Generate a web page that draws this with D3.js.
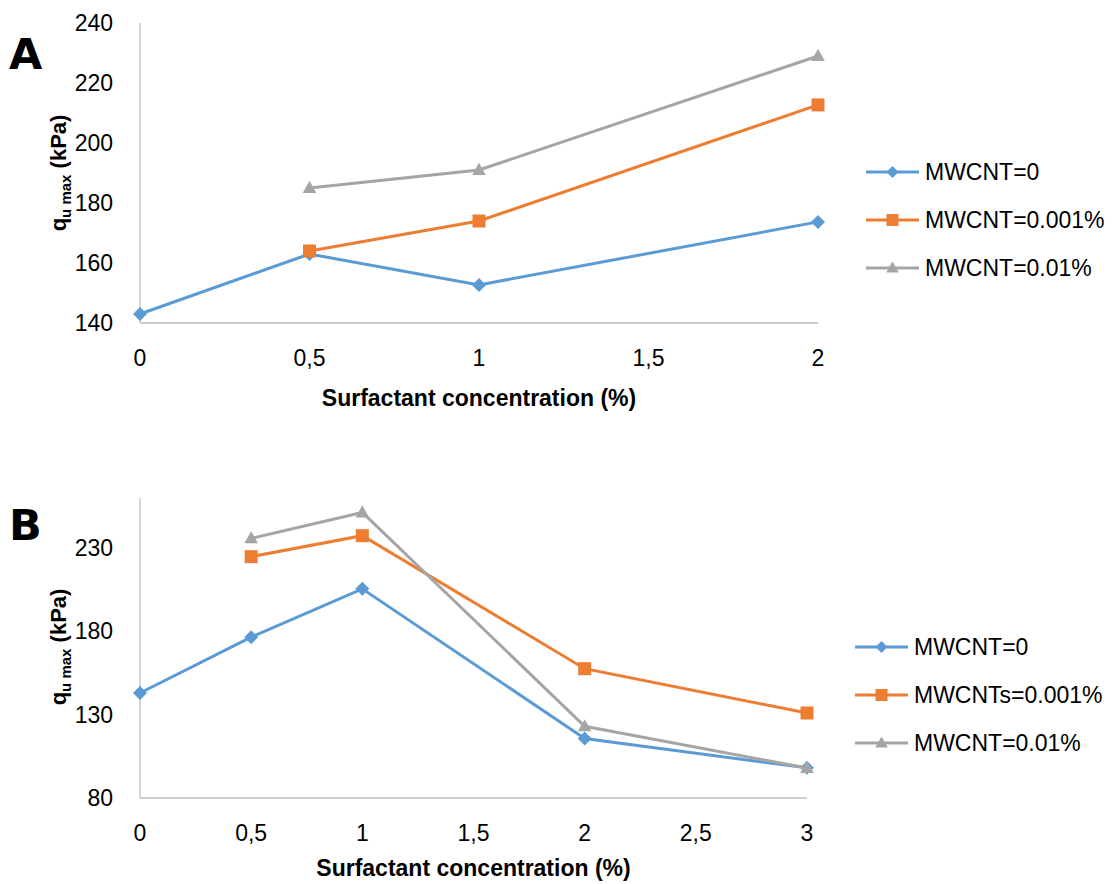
<!DOCTYPE html>
<html>
<head>
<meta charset="utf-8">
<script src="https://cdn.jsdelivr.net/npm/d3@7"></script>
<style>
  body { margin: 0; background: #fff; }
  svg text { font-family: "Liberation Sans", Arial, sans-serif; fill: #000; }
</style>
</head>
<body>
<svg id="chart" width="1113" height="884"></svg>
<script>
// panel A
var xA = [0, 0.5, 1, 2],
    xTicksA = [0, 0.5, 1, 1.5, 2],
    yTicksA = [140, 160, 180, 200, 220, 240],
    a0 = [143, 163, 152.7, 173.7],
    a001 = [null, 164, 174, 212.7],
    a01 = [null, 185, 191, 229],
    legendA = ["MWCNT=0", "MWCNT=0.001%", "MWCNT=0.01%"];

// panel B
var xB = [0, 0.5, 1, 2, 3],
    xTicksB = [0, 0.5, 1, 1.5, 2, 2.5, 3],
    yTicksB = [80, 130, 180, 230],
    b0 = [143, 176.5, 205.5, 115.7, 98.1],
    b001 = [null, 224.8, 237.4, 157.6, 131],
    b01 = [null, 235.8, 251.3, 123, 98],
    legendB = ["MWCNT=0", "MWCNTs=0.001%", "MWCNT=0.01%"];

var COLORS = ["#5B9BD5", "#ED7D31", "#A5A5A5"],
    SHAPES = ["diamond", "square", "triangle"];

var svg = d3.select("#chart");
var fmt = d => String(d).replace(".", ",");

function marker(shape, s) {
  if (shape == "diamond") return "M0," + (-s) + "L" + s + ",0L0," + s + "L" + (-s) + ",0Z";
  if (shape == "square") return "M" + (-s) + "," + (-s) + "h" + (2 * s) + "v" + (2 * s) + "h" + (-2 * s) + "Z";
  return "M0," + (-s * 1.1) + "L" + (s * 1.05) + "," + (s * 0.75) + "L" + (-s * 1.05) + "," + (s * 0.75) + "Z";
}

function drawPanel(p) {
  var g = svg.append("g");

  var x = d3.scaleLinear().domain(p.xDomain).range([140, p.right]);
  var y = d3.scaleLinear().domain(p.yDomain).range([p.bottom, p.top]);

  // axes lines
  g.append("line")
      .attr("x1", x.range()[0]).attr("x2", x.range()[0])
      .attr("y1", p.top).attr("y2", p.bottom)
      .attr("stroke", "#bfbfbf").attr("stroke-width", 1.3);
  g.append("line")
      .attr("x1", x.range()[0]).attr("x2", p.right)
      .attr("y1", p.bottom).attr("y2", p.bottom)
      .attr("stroke", "#bfbfbf").attr("stroke-width", 1.3);

  g.selectAll(".yt")
      .data(p.yTicks)
      .enter().append("text")
      .attr("x", 113)
      .attr("y", d => y(d))
      .attr("dy", "0.35em")
      .attr("text-anchor", "end")
      .style("font-size", "23px")
      .text(d => d);

  g.selectAll(".xt")
      .data(p.xTicks)
      .enter().append("text")
      .attr("x", d => x(d))
      .attr("y", p.bottom + 35)
      .attr("dy", "0.35em")
      .attr("text-anchor", "middle")
      .style("font-size", "23px")
      .text(fmt);

  g.append("text")
      .attr("x", (x.range()[0] + p.right) / 2)
      .attr("y", p.bottom + p.titleOff)
      .attr("dy", "0.35em")
      .attr("text-anchor", "middle")
      .style("font-size", "23px")
      .style("font-weight", "bold")
      .text("Surfactant concentration (%)");

  var yt = g.append("text")
      .attr("transform", "translate(66," + p.titleY + ") rotate(-90)")
      .attr("text-anchor", "middle")
      .style("font-size", "22px")
      .style("font-weight", "bold");
  yt.append("tspan").text("q");
  yt.append("tspan").attr("dy", 5).style("font-size", "15px").text("u max");
  yt.append("tspan").attr("dy", -5).text(" (kPa)");

  g.append("text")
      .attr("x", 9)
      .attr("y", p.letterY)
      .style("font-size", "43px")
      .style("font-weight", "900")
      .style("font-family", "'DejaVu Sans', sans-serif")
      .text(p.letter);

  var line = d3.line()
      .defined(d => d.v != null)
      .x(d => x(d.x))
      .y(d => y(d.v));

  p.series.forEach(function(vals, i) {
    var pts = vals.map((v, j) => ({x: p.xs[j], v: v}));
    g.append("path")
        .datum(pts)
        .attr("d", line)
        .attr("fill", "none")
        .attr("stroke", COLORS[i])
        .attr("stroke-width", 3);
    g.selectAll(".m" + i)
        .data(pts.filter(d => d.v != null))
        .enter().append("path")
        .attr("transform", d => "translate(" + x(d.x) + "," + y(d.v) + ")")
        .attr("d", marker(SHAPES[i], i == 0 ? 7 : 6.5))
        .attr("fill", COLORS[i]);
  });

  var legend = g.append("g")
      .attr("transform", "translate(" + p.legendX + "," + p.legendY + ")");
  p.legend.forEach(function(name, i) {
    var row = legend.append("g").attr("transform", "translate(0," + (48 * i) + ")");
    row.append("line")
        .attr("x1", 0).attr("x2", 53)
        .attr("stroke", COLORS[i]).attr("stroke-width", 3);
    row.append("path")
        .attr("transform", "translate(26.5,0)")
        .attr("d", marker(SHAPES[i], 6))
        .attr("fill", COLORS[i]);
    row.append("text")
        .attr("x", 59)
        .attr("dy", "0.35em")
        .style("font-size", "23px")
        .text(name);
  });
}

drawPanel({
  letter: "A", letterY: 69,
  xs: xA, xTicks: xTicksA, yTicks: yTicksA,
  xDomain: [0, 2], yDomain: [140, 240],
  right: 818, top: 23, bottom: 323,
  titleY: 173, titleOff: 75,
  series: [a0, a001, a01],
  legend: legendA, legendX: 866, legendY: 172
});

drawPanel({
  letter: "B", letterY: 540,
  xs: xB, xTicks: xTicksB, yTicks: yTicksB,
  xDomain: [0, 3], yDomain: [80, 260],
  right: 807, top: 498, bottom: 798,
  titleY: 647, titleOff: 70,
  series: [b0, b001, b01],
  legend: legendB, legendX: 855, legendY: 647
});
</script>
</body>
</html>
